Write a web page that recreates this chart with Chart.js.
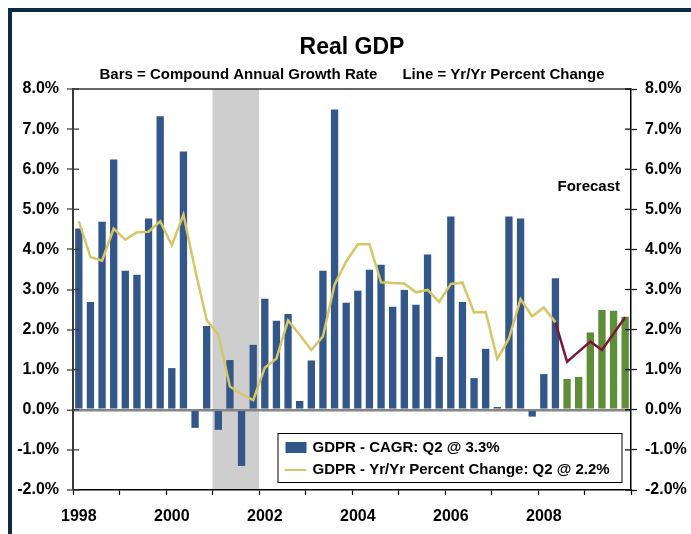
<!DOCTYPE html>
<html>
<head>
<meta charset="utf-8">
<script src="https://cdn.jsdelivr.net/npm/chart.js@4.4.1/dist/chart.umd.min.js"></script>
<style>
  html, body { margin: 0; padding: 0; background: #fff; overflow: hidden; }
  #frame {
    position: absolute; left: 8px; top: 8px; width: 720px; height: 560px;
    border-left: 4px solid #0d2a45; border-top: 4px solid #0d2a45;
  }
  #myChart { position: absolute; left: 0; top: 0; }
</style>
</head>
<body>
<div id="frame"></div>
<canvas id="myChart" width="691" height="534"></canvas>
<script>
// quarters 1998Q1 .. 2009Q4
const quarters = [
    "1998Q1", "1998Q2", "1998Q3", "1998Q4", "1999Q1", "1999Q2", "1999Q3", "1999Q4",
    "2000Q1", "2000Q2", "2000Q3", "2000Q4", "2001Q1", "2001Q2", "2001Q3", "2001Q4",
    "2002Q1", "2002Q2", "2002Q3", "2002Q4", "2003Q1", "2003Q2", "2003Q3", "2003Q4",
    "2004Q1", "2004Q2", "2004Q3", "2004Q4", "2005Q1", "2005Q2", "2005Q3", "2005Q4",
    "2006Q1", "2006Q2", "2006Q3", "2006Q4", "2007Q1", "2007Q2", "2007Q3", "2007Q4",
    "2008Q1", "2008Q2", "2008Q3", "2008Q4", "2009Q1", "2009Q2", "2009Q3", "2009Q4"
];
const yearLabels = ["1998", "2000", "2002", "2004", "2006", "2008"];

// bars = compound annual growth rate (actual), then forecast
const cagrActual = [
    4.52, 2.69, 4.69, 6.24, 3.47, 3.37, 4.77, 7.32,
    1.04, 6.44, -0.45, 2.09, -0.50, 1.24, -1.40, 1.62,
    2.77, 2.22, 2.39, 0.22, 1.23, 3.47, 7.49, 2.67,
    2.97, 3.49, 3.62, 2.57, 2.99, 2.62, 3.87, 1.32,
    4.82, 2.69, 0.79, 1.52, 0.07, 4.82, 4.77, -0.17,
    0.89, 3.28, null, null, null, null, null, null
];
const cagrForecast = [
    null, null, null, null, null, null, null, null,
    null, null, null, null, null, null, null, null,
    null, null, null, null, null, null, null, null,
    null, null, null, null, null, null, null, null,
    null, null, null, null, null, null, null, null,
    null, null, 0.77, 0.82, 1.93, 2.49, 2.47, 2.32
];

// line = yr/yr percent change
const yoyActual = [
    4.70, 3.81, 3.72, 4.52, 4.24, 4.43, 4.44, 4.70,
    4.10, 4.87, 3.50, 2.24, 1.87, 0.58, 0.39, 0.24,
    1.05, 1.28, 2.23, 1.87, 1.49, 1.83, 3.12, 3.70,
    4.13, 4.13, 3.18, 3.16, 3.15, 2.93, 2.99, 2.69,
    3.14, 3.17, 2.43, 2.44, 1.27, 1.78, 2.76, 2.33,
    2.55, 2.18, null, null, null, null, null, null
];
const yoyForecast = [
    null, null, null, null, null, null, null, null,
    null, null, null, null, null, null, null, null,
    null, null, null, null, null, null, null, null,
    null, null, null, null, null, null, null, null,
    null, null, null, null, null, null, null, null,
    null, 2.18, 1.20, 1.45, 1.70, 1.49, 1.90, 2.31
];

const recessionStart = "2001Q1";
const recessionEnd = "2001Q4";

const titleText = "Real GDP";
const subtitleLeft = "Bars = Compound Annual Growth Rate";
const subtitleRight = "Line = Yr/Yr Percent Change";
const legendBars = "GDPR - CAGR: Q2 @ 3.3%";
const legendLine = "GDPR - Yr/Yr Percent Change: Q2 @ 2.2%";
const forecastLabel = "Forecast";
const forecastLabelValue = 5.57;

const BLUE = "#34578a";
const GREEN = "#5f8e3b";
const YELLOW = "#d6c766";
const MAROON = "#7d1636";
const FONT = "'Liberation Sans', Arial, sans-serif";

// gray recession band + heading text
const backdrop = {
    id: "backdrop",
    beforeDraw(chart) {
        const {ctx, chartArea, scales} = chart;
        const x = scales.x;
        const half = (x.getPixelForValue(1) - x.getPixelForValue(0)) / 2;
        const x0 = x.getPixelForValue(quarters.indexOf(recessionStart)) - half;
        const x1 = x.getPixelForValue(quarters.indexOf(recessionEnd)) + half;
        ctx.save();
        ctx.fillStyle = "#cecece";
        ctx.fillRect(x0, chartArea.top, x1 - x0, chartArea.bottom - chartArea.top);

        const cx = (chartArea.left + chartArea.right) / 2;
        ctx.fillStyle = "#000";
        ctx.textBaseline = "middle";
        ctx.textAlign = "center";
        ctx.font = "bold 23px " + FONT;
        ctx.fillText(titleText, cx, 48);

        ctx.font = "bold 15px " + FONT;
        const gap = 25;
        const w1 = ctx.measureText(subtitleLeft).width;
        const w2 = ctx.measureText(subtitleRight).width;
        const start = cx - (w1 + gap + w2) / 2;
        ctx.textAlign = "left";
        ctx.fillText(subtitleLeft, start, 75);
        ctx.fillText(subtitleRight, start + w1 + gap, 75);
        ctx.restore();
    }
};

// top frame line, inner tick stubs, legend box, forecast note
const overlay = {
    id: "overlay",
    afterDraw(chart) {
        const {ctx, chartArea, scales} = chart;
        ctx.save();
        ctx.strokeStyle = "#333";
        ctx.lineWidth = 1.5;
        ctx.beginPath();
        ctx.moveTo(chartArea.left, chartArea.top);
        ctx.lineTo(chartArea.right, chartArea.top);
        ctx.stroke();

        // tick stubs on the inside of both y axes
        ctx.lineWidth = 1.2;
        scales.y.ticks.forEach((t) => {
            const py = scales.y.getPixelForValue(t.value);
            ctx.strokeStyle = "#333";
            ctx.beginPath();
            ctx.moveTo(chartArea.left, py);
            ctx.lineTo(chartArea.left + 6, py);
            ctx.stroke();
            ctx.strokeStyle = "#000";
            ctx.beginPath();
            ctx.moveTo(chartArea.right - 6, py);
            ctx.lineTo(chartArea.right, py);
            ctx.stroke();
        });

        // forecast note
        ctx.fillStyle = "#000";
        ctx.font = "bold 15px " + FONT;
        ctx.textAlign = "right";
        ctx.textBaseline = "middle";
        ctx.fillText(forecastLabel, chartArea.right - 11, scales.y.getPixelForValue(forecastLabelValue));

        // legend
        const left = chartArea.right - 353.5;
        const top = chartArea.bottom - 57;
        ctx.fillStyle = "#fff";
        ctx.fillRect(left, top, 344, 49);
        ctx.strokeStyle = "#000";
        ctx.lineWidth = 1;
        ctx.strokeRect(left + 0.5, top + 0.5, 344, 49);

        ctx.fillStyle = BLUE;
        ctx.fillRect(left + 8, top + 9, 21, 11);
        ctx.strokeStyle = YELLOW;
        ctx.lineWidth = 2;
        ctx.beginPath();
        ctx.moveTo(left + 7, top + 37);
        ctx.lineTo(left + 29, top + 37);
        ctx.stroke();

        ctx.fillStyle = "#000";
        ctx.textAlign = "left";
        ctx.fillText(legendBars, left + 35, top + 14.5);
        ctx.fillText(legendLine, left + 35, top + 37);
        ctx.restore();
    }
};

const pct = (v) => v.toFixed(1) + "%";

const config = {
    type: "bar",
    data: {
        labels: quarters,
        datasets: [
            {
                type: "line",
                label: "GDPR - Yr/Yr Percent Change",
                data: yoyActual,
                borderColor: YELLOW,
                borderWidth: 2.5,
                pointRadius: 0,
                tension: 0,
                spanGaps: false,
                order: 0,
            },
            {
                type: "line",
                label: "Forecast Yr/Yr",
                data: yoyForecast,
                borderColor: MAROON,
                borderWidth: 2.5,
                pointRadius: 0,
                tension: 0,
                order: 0,
            },
            {
                label: "GDPR - CAGR",
                data: cagrActual,
                backgroundColor: BLUE,
                grouped: false,
                categoryPercentage: 1,
                barPercentage: 0.63,
                order: 1,
            },
            {
                label: "Forecast CAGR",
                data: cagrForecast,
                backgroundColor: GREEN,
                grouped: false,
                categoryPercentage: 1,
                barPercentage: 0.63,
                order: 1,
            },
        ],
    },
    options: {
        responsive: false,
        animation: false,
        devicePixelRatio: 1,
        layout: {padding: {top: 89, left: 0, right: 0, bottom: 0}},
        plugins: {
            legend: {display: false},
            title: {display: false},
            tooltip: {enabled: false},
        },
        scales: {
            x: {
                offset: true,
                grid: {
                    offset: true,
                    drawOnChartArea: false,
                    tickLength: 5,
                    tickWidth: 1.2,
                    tickColor: (c) => (c.index === undefined || c.index % 4 === 0) ? "#000" : "rgba(0,0,0,0)",
                },
                border: {color: "#000", width: 1.5},
                ticks: {
                    autoSkip: false,
                    maxRotation: 0,
                    padding: 12,
                    color: "#000",
                    font: {family: FONT, size: 16, weight: "bold"},
                    callback: (v, i) => {
                        const q = quarters[i];
                        const yr = q.slice(0, 4);
                        return (q.endsWith("Q1") && yearLabels.includes(yr)) ? yr : "";
                    },
                },
                afterFit: (s) => { s.height = 44; },
            },
            y: {
                position: "left",
                min: -2,
                max: 8,
                ticks: {
                    stepSize: 1,
                    padding: 8,
                    color: "#000",
                    font: {family: FONT, size: 16, weight: "bold"},
                    callback: pct,
                },
                grid: {
                    drawOnChartArea: true,
                    color: (c) => c.tick && c.tick.value === 0 ? "#858585" : "rgba(0,0,0,0)",
                    lineWidth: (c) => c.tick && c.tick.value === 0 ? 2.5 : 0,
                    tickLength: 6,
                    tickWidth: 1.2,
                    tickColor: "#333",
                },
                border: {color: "#3a3a3a", width: 2},
                afterFit: (s) => { s.width = 73; },
            },
            y2: {
                position: "right",
                min: -2,
                max: 8,
                ticks: {
                    stepSize: 1,
                    padding: 8,
                    color: "#000",
                    font: {family: FONT, size: 16, weight: "bold"},
                    callback: pct,
                },
                grid: {
                    drawOnChartArea: false,
                    tickLength: 6,
                    tickWidth: 1.2,
                    tickColor: "#000",
                },
                border: {color: "#000", width: 1.5},
                afterFit: (s) => { s.width = 60; },
            },
        },
    },
    plugins: [backdrop, overlay],
};

const myChart = new Chart(document.getElementById("myChart"), config);
</script>
</body>
</html>
